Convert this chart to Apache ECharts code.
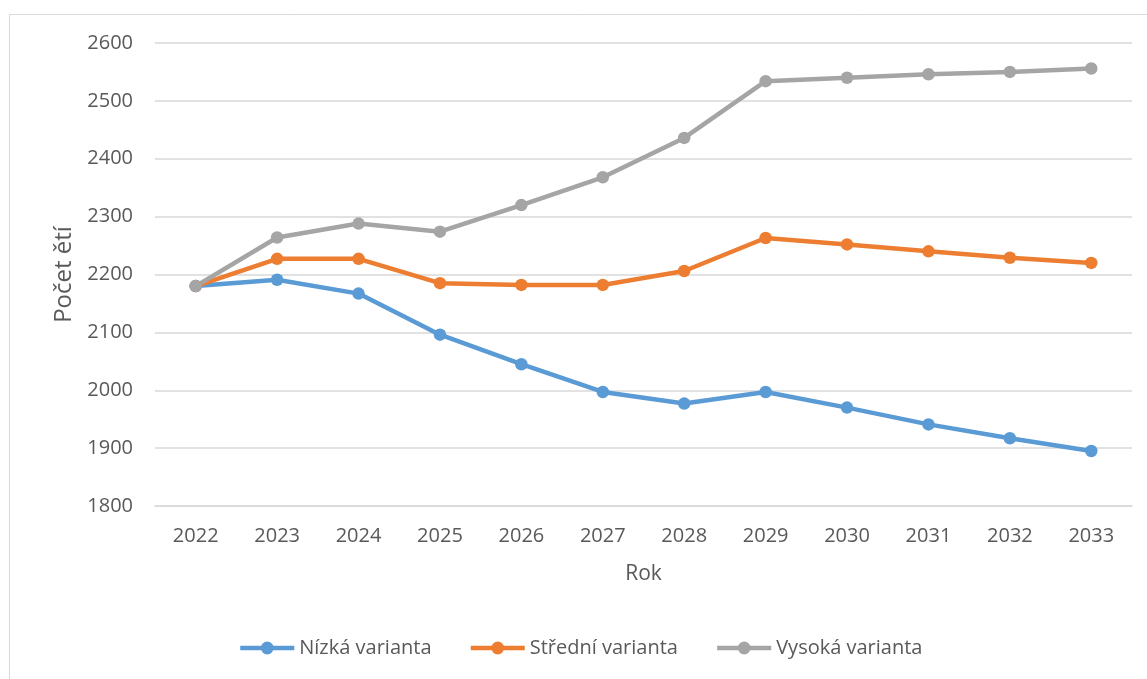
<!DOCTYPE html>
<html>
<head>
<meta charset="utf-8">
<script src="https://cdn.jsdelivr.net/npm/echarts@6/dist/echarts.min.js"></script>
<style>
  html, body { margin: 0; padding: 0; background: #fff; }
  #chart { width: 1147px; height: 679px; }
</style>
</head>
<body>
<div id="chart"></div>
<script>
  var years = ['2022', '2023', '2024', '2025', '2026', '2027', '2028', '2029', '2030', '2031', '2032', '2033'];

  var nizka = [2180, 2191, 2167, 2096, 2045, 1997, 1977, 1997, 1970, 1941, 1917, 1895];
  var stredni = [2180, 2227, 2227, 2185, 2182, 2182, 2206, 2263, 2252, 2240, 2229, 2220];
  var vysoka = [2180, 2264, 2288, 2274, 2320, 2368, 2436, 2534, 2540, 2546, 2550, 2556];

  var chartDom = document.getElementById('chart');
  var myChart = echarts.init(chartDom, null, { renderer: 'canvas' });

  var textColor = '#595959';
  var fontName = '"Open Sans", sans-serif';

  function lineSeries(name, data, color) {
    return {
      name: name,
      type: 'line',
      data: data,
      symbol: 'circle',
      symbolSize: 12.5,
      lineStyle: { width: 4.5, color: color },
      itemStyle: { color: color },
      emphasis: { disabled: true }
    };
  }

  var option = {
    animation: false,
    backgroundColor: '#fff',
    textStyle: { fontFamily: fontName, color: textColor },
    graphic: [{
      type: 'rect',
      shape: { x: 9.5, y: 14.5, width: 1160, height: 700 },
      style: { fill: 'none', stroke: '#d9d9d9', lineWidth: 1 },
      silent: true
    }],
    grid: {
      left: 155,
      right: 15,
      top: 43,
      bottom: 173
    },
    legend: {
      left: 233,
      top: 633,
      itemWidth: 54,
      itemHeight: 16,
      itemGap: 37,
      lineStyle: { width: 4.5 },
      textStyle: { fontSize: 20, color: textColor, fontFamily: fontName },
      data: ['Nízká varianta', 'Střední varianta', 'Vysoká varianta']
    },
    xAxis: {
      type: 'category',
      data: years,
      boundaryGap: true,
      name: 'Rok',
      nameLocation: 'middle',
      nameGap: 58,
      nameTextStyle: { fontSize: 21, color: textColor },
      axisLine: { lineStyle: { color: '#d9d9d9', width: 1.5 } },
      axisTick: { show: false },
      axisLabel: { fontSize: 20, color: textColor, margin: 20 }
    },
    yAxis: {
      type: 'value',
      min: 1800,
      max: 2600,
      interval: 100,
      name: 'Počet ětí',
      nameLocation: 'middle',
      nameGap: 77,
      nameTextStyle: { fontSize: 24, color: textColor },
      axisLine: { show: false },
      axisTick: { show: false },
      axisLabel: {
        fontSize: 20,
        color: textColor,
        margin: 22,
        formatter: function (v) { return String(v); }
      },
      splitLine: { lineStyle: { color: '#d9d9d9', width: 1.5 } }
    },
    series: [
      lineSeries('Nízká varianta', nizka, '#5b9bd5'),
      lineSeries('Střední varianta', stredni, '#ed7d31'),
      lineSeries('Vysoká varianta', vysoka, '#a5a5a5')
    ]
  };

  myChart.setOption(option);

  window.addEventListener('resize', myChart.resize);
</script>
</body>
</html>
